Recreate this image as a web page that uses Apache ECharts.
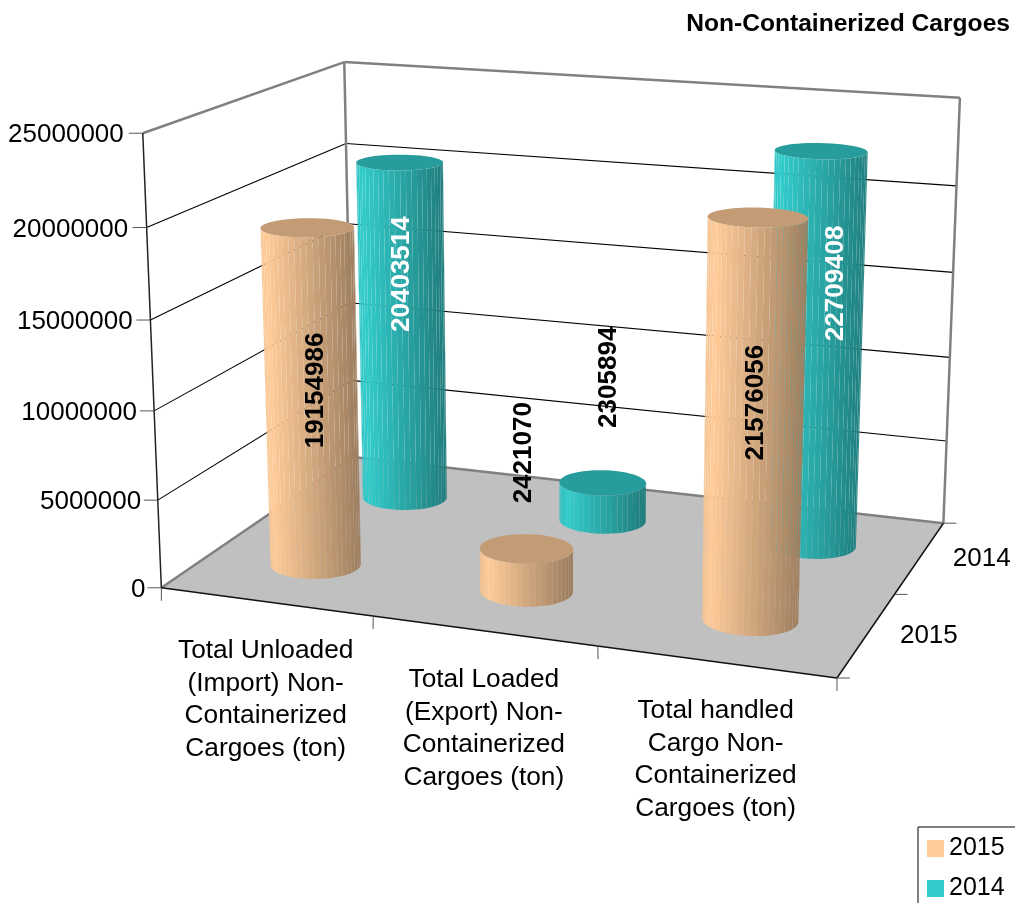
<!DOCTYPE html>
<html><head><meta charset="utf-8">
<style>html,body{margin:0;padding:0;background:#fff}#c{width:1015px;height:903px}</style>
<script src="https://cdn.jsdelivr.net/npm/echarts@6/dist/echarts.min.js"></script>
</head><body><div id="c"></div>
<script>
const categories = ['Total Unloaded\n(Import) Non-\nContainerized\nCargoes (ton)',
  'Total Loaded\n(Export) Non-\nContainerized\nCargoes (ton)',
  'Total handled\nCargo Non-\nContainerized\nCargoes (ton)'];
const depthNames = ['2015', '2014'];
const values2015 = [19154986, 2421070, 21576056];
const values2014 = [20403514, 2305894, 22709408];
const yTicks = [0, 5000000, 10000000, 15000000, 20000000, 25000000];

const FONT = '"Liberation Sans", Arial, sans-serif';
const colors = {'2015': [255, 204, 153], '2014': [51, 204, 204]};
const RU = 0.0675, RV = 0.094, SIDES = 48;
const labelLift = {'2015': [.402,.313,.474], '2014': [.550,.347,.611]};
const labelShift = {'2015': [4,-2,2], '2014': [0,6,18]};

// perspective camera fitted to the frame's corners (u along categories, v depth, w height)
const frameFit = [
 [0,0,0,162,588],[1,0,0,836.5,678.5],[0,1,0,352,457],[1,1,0,944,522.5],
 [0,0,1,142.5,133],[0,1,1,344.5,62],[1,1,1,960.5,98],
 [0,0,.8,146.7,227],[0,1,.8,346,144],[1,1,.8,955.7,186]];
function fitCamera(pts){
  const n=11, A=Array.from({length:n},()=>new Array(n+1).fill(0));
  const add=(r,b)=>{for(let i=0;i<n;i++){for(let j=0;j<n;j++)A[i][j]+=r[i]*r[j];A[i][n]+=r[i]*b;}};
  pts.forEach(([u,v,w,x,y])=>{
    add([u,v,w,1,0,0,0,0,-x*u,-x*v,-x*w],x);
    add([0,0,0,0,u,v,w,1,-y*u,-y*v,-y*w],y);
  });
  for(let i=0;i<n;i++){
    let p=i;for(let k=i+1;k<n;k++)if(Math.abs(A[k][i])>Math.abs(A[p][i]))p=k;
    [A[i],A[p]]=[A[p],A[i]];
    for(let k=0;k<n;k++){if(k===i)continue;const f=A[k][i]/A[i][i];for(let j=i;j<=n;j++)A[k][j]-=f*A[i][j];}
  }
  return A.map((r,i)=>r[n]/r[i]);
}
const P=fitCamera(frameFit);
function proj(u,v,w){
  const d=P[8]*u+P[9]*v+P[10]*w+1;
  return [(P[0]*u+P[1]*v+P[2]*w+P[3])/d,(P[4]*u+P[5]*v+P[6]*w+P[7])/d];
}
const shade=(c,f)=>`rgb(${Math.round(c[0]*f)},${Math.round(c[1]*f)},${Math.round(c[2]*f)})`;
function toWorld(params,api,cat,val){
  const p=api.coord([cat,val]), s=params.coordSys;
  return [(p[0]-s.x)/s.width,(s.y+s.height-p[1])/s.height];
}
function renderCylinder(params,api){
  const name=params.seriesName, c=colors[name];
  const cat=api.value(0), val=api.value(1);
  const [u,w]=toWorld(params,api,cat,val);
  const v=(depthNames.indexOf(name)+0.5)/depthNames.length;
  const bot=[],top=[];
  for(let i=0;i<SIDES;i++){
    const a=i/SIDES*Math.PI*2;
    const uu=u+RU*Math.cos(a), vv=v+RV*Math.sin(a);
    bot.push(proj(uu,vv,0)); top.push(proj(uu,vv,w));
  }
  const xs=bot.concat(top).map(p=>p[0]);
  const minX=Math.min(...xs), maxX=Math.max(...xs);
  const children=[];
  for(let i=0;i<SIDES;i++){
    const j=(i+1)%SIDES;
    const q=[bot[i],bot[j],top[j],top[i]];
    let area=0;
    for(let k=0;k<4;k++){const a=q[k],b=q[(k+1)%4];area+=a[0]*b[1]-b[0]*a[1];}
    if(area>=0) continue;
    const t=((bot[i][0]+bot[j][0]+top[i][0]+top[j][0])/4-minX)/(maxX-minX);
    const f=t<0.1?0.94+0.06*t/0.1:1-0.4*(t-0.1)/0.9;
    children.push({type:'polygon',shape:{points:q},style:{fill:shade(c,f)}});
  }
  children.push({type:'polygon',shape:{points:top},style:{fill:shade(c,0.765)}});
  const lp=proj(u,v,labelLift[name][cat]);
  children.push({type:'text',x:lp[0]+labelShift[name][cat],y:lp[1],rotation:Math.PI/2,z2:10,
    style:{text:String(val),x:0,y:0,textAlign:'center',textVerticalAlign:'middle',
      fill:(name==='2014'&&val>5000000)?'#fff':'#000',font:'bold 26px '+FONT}});
  return {type:'group',children};
}
function renderFrame(params,api){
  const ch=[];
  const line=(a,b,stroke,lw)=>ch.push({type:'line',shape:{x1:a[0],y1:a[1],x2:b[0],y2:b[1]},style:{stroke,lineWidth:lw}});
  const txt=(x,y,text,align,extra)=>ch.push({type:'text',style:Object.assign({text,x,y,textAlign:align,textVerticalAlign:'middle',fill:'#000',font:'26px '+FONT},extra||{})});
  ch.push({type:'polygon',shape:{points:[proj(0,0,0),proj(1,0,0),proj(1,1,0),proj(0,1,0)]},style:{fill:'#c0c0c0'}});
  yTicks.forEach(t=>{
    const w=toWorld(params,api,0,t)[1];
    const a=proj(0,0,w),b=proj(0,1,w),c=proj(1,1,w);
    if(t>0){
      const edge=t===yTicks[yTicks.length-1];
      line(a,b,edge?'#808080':'#000',edge?2.5:1.1);
      line(b,c,edge?'#808080':'#000',edge?2.5:1.1);
    }
    line([a[0]-14,a[1]],a,'#555',1);
    txt(a[0]-16-3*w,a[1]+2,String(t),'right');
  });
  line(proj(0,1,0),proj(0,1,1),'#808080',2.5);
  line(proj(1,1,0),proj(1,1,1),'#808080',2.5);
  line(proj(0,0,0),proj(0,1,0),'#808080',2.5);
  line(proj(0,1,0),proj(1,1,0),'#808080',2.5);
  line(proj(0,0,0),proj(0,0,1),'#222',1.5);
  line(proj(0,0,0),proj(1,0,0),'#111',1.5);
  line(proj(1,0,0),proj(1,1,0),'#111',1.5);
  for(let i=0;i<=categories.length;i++){
    const a=proj(i/categories.length,0,0);
    line(a,[a[0],a[1]+13],'#555',1);
  }
  categories.forEach((c,i)=>{
    const u=toWorld(params,api,i,0)[0], a=proj(u,0,0);
    ch.push({type:'text',style:{text:c,x:a[0],y:a[1]+33,textAlign:'center',textVerticalAlign:'top',
      fill:'#000',font:'26.3px '+FONT,lineHeight:32.5}});
  });
  for(let i=0;i<=depthNames.length;i++){
    const a=proj(1,i/depthNames.length,0);
    line(a,[a[0]+13,a[1]],'#555',1);
  }
  depthNames.forEach((d,i)=>{
    const a=proj(1,(i+0.5)/depthNames.length,0);
    txt(a[0]+33,a[1]+1,d,'left');
  });
  return {type:'group',children:ch};
}
const chart=echarts.init(document.getElementById('c'),null,{renderer:'canvas'});
const cylinder=(name,vals)=>({name,type:'custom',coordinateSystem:'cartesian2d',
  renderItem:renderCylinder,data:vals.map((v,i)=>[i,v]),encode:{x:0,y:1},
  itemStyle:{color:shade(colors[name],1)},silent:true,z:2,clip:false});
chart.setOption({
  animation:false,backgroundColor:'#fff',
  title:{text:'Non-Containerized Cargoes',right:5,top:12,padding:0,
    textStyle:{fontFamily:FONT,fontWeight:'bold',fontSize:24.6,color:'#000'}},
  legend:{data:depthNames,selectedMode:false,orient:'vertical',left:918,top:827,height:100,
    padding:[9,20,30,9],itemGap:15,itemWidth:17,itemHeight:17,icon:'rect',
    borderColor:'#000',borderWidth:1,backgroundColor:'#fff',
    textStyle:{fontFamily:FONT,fontSize:25,color:'#000',padding:[0,0,0,0]}},
  grid:{left:100,top:100,width:600,height:500},
  xAxis:{type:'category',data:categories,show:false},
  yAxis:{type:'value',min:0,max:25000000,interval:5000000,show:false},
  series:[
    {name:'frame',type:'custom',coordinateSystem:'cartesian2d',renderItem:renderFrame,
     data:[[0,0]],encode:{x:0,y:1},silent:true,z:1,clip:false},
    cylinder('2014',values2014),
    cylinder('2015',values2015)
  ]
});
</script></body></html>
